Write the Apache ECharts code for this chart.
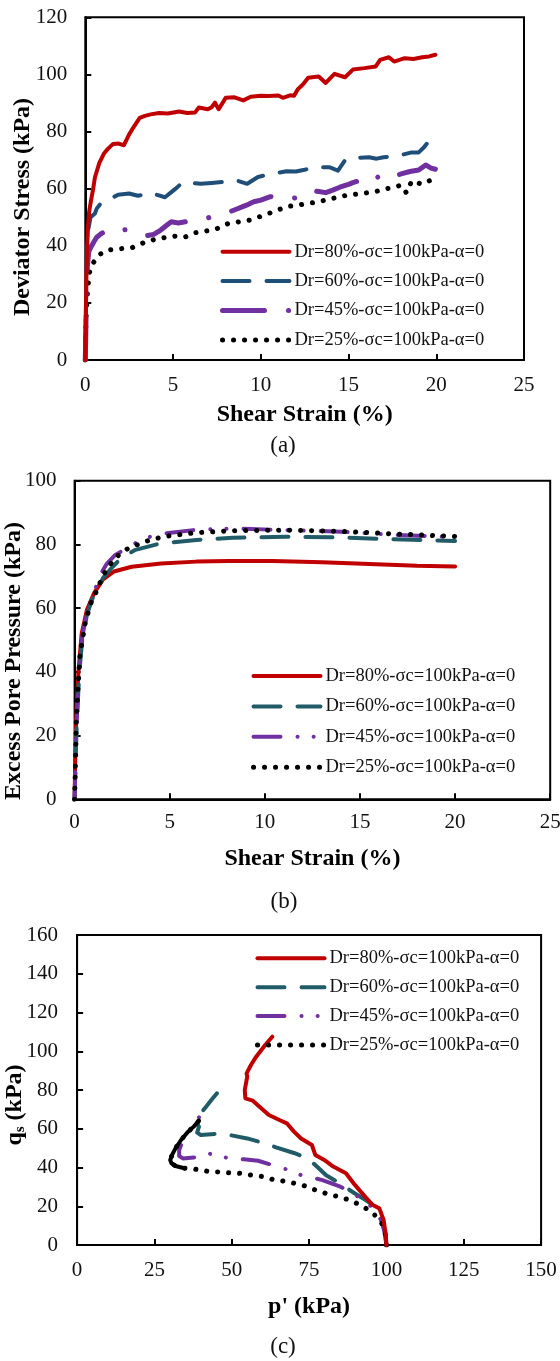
<!DOCTYPE html>
<html><head><meta charset="utf-8">
<script src="https://cdn.jsdelivr.net/npm/echarts@6/dist/echarts.min.js"></script>
<style>html,body{margin:0;padding:0;background:#fff}#c{width:560px;height:1361px}</style>
</head><body><div id="c"></div>
<script>
// ---------- labels ----------
const legendLabels = ['Dr=80%-σc=100kPa-α=0','Dr=60%-σc=100kPa-α=0','Dr=45%-σc=100kPa-α=0','Dr=25%-σc=100kPa-α=0'];
const xTicksStrain = [0, 5, 10, 15, 20, 25];
const yTicksDev = [0, 20, 40, 60, 80, 100, 120];
const yTicksPore = [0, 20, 40, 60, 80, 100];
const xTicksP = [0, 25, 50, 75, 100, 125, 150];
const yTicksQ = [0, 20, 40, 60, 80, 100, 120, 140, 160];

// ---------- panel (a): deviator stress vs shear strain ----------
const aStrain80 = [0,0.03,0.06,0.1,0.15,0.22,0.33,0.45,0.55,0.8,1.06,1.3,1.57,1.9,2.2,2.5,2.8,3.1,3.4,3.72,4.2,4.7,5.35,5.8,6.26,6.47,6.98,7.2,7.39,7.6,8.0,8.5,9.0,9.43,10.0,10.45,11.0,11.26,11.67,11.9,12.1,12.4,12.7,13.3,13.7,14.2,14.8,15.25,15.9,16.55,16.8,17.3,17.6,18.2,18.7,19.2,19.6,19.95];
const aDev80    = [0,15,28,38.5,46,52,56,60,64,69,72.3,74,75.6,75.8,75.2,79,82,84.8,85.5,86,86.5,86.3,87,86.5,86.7,88.4,87.8,88.5,90.1,87.8,91.8,92,90.9,92.2,92.5,92.4,92.6,91.8,92.7,92.5,94.7,96.5,98.8,99.3,97,100.2,99,101.7,102.2,102.8,105.1,106,104.5,105.7,105.4,106,106.3,106.9];
const aStrain60 = [0,0.02,0.05,0.12,0.3,0.55,0.65,0.9,1.26,1.6,1.87,2.49,3.0,3.3,3.7,4.1,4.54,4.85,5.15,5.56,6.0,6.58,7.2,7.8,8.6,9.23,9.84,10.66,11.47,12.0,12.5,13.1,13.9,14.4,14.85,15.5,16.17,16.6,17.0,17.8,18.6,19.0,19.3,19.6,19.95];
const aDev60    = [0,9.3,25,44,50,51.3,53,55,56,57,57.9,58.3,57.5,57.9,58.6,57.8,57,58.5,60,62.3,62,61.7,62,62.3,62.9,61.7,64.1,65.2,66.1,66,66.6,67.5,67.5,66.3,70.4,70.8,71,70.5,71,71.5,72.7,72.7,74.5,76.8,78];
const aStrain45 = [0,0.03,0.06,0.12,0.2,0.33,0.5,0.65,0.85,1.06,1.25,1.47,1.77,2.1,2.49,2.9,3.4,3.9,4.3,4.6,4.9,5.3,5.7,6.2,6.7,7.1,7.4,7.8,8.15,8.6,8.97,9.3,9.6,10.0,10.55,11.0,11.47,12.0,12.4,12.9,13.3,13.7,14.1,14.5,15.0,15.25,15.6,15.97,16.4,16.8,17.2,17.6,18.0,18.5,19.0,19.4,19.7,19.95];
const aDev45    = [0,10,22,33,38,39.6,41.5,43,44,44.8,45.5,46.2,45.7,45.5,45.7,44.5,43.4,44,45.5,47,48.4,48,48.4,48.6,49,50,50.8,51,51.7,52.8,53.7,54.5,55.4,56,57.2,56.8,56.2,56.8,57.2,59.3,59,58.6,59.5,60.5,61.5,62.1,62.8,63.6,62.5,64.8,63.6,64.2,65.2,66,66.5,68.3,67.2,66.8];
const aStrain25 = [0,0.02,0.06,0.12,0.22,0.43,0.74,1.26,2.07,2.69,3.3,4.1,5.15,5.7,6.2,7.4,8.15,9.4,10.45,11.47,12.5,13.3,14.1,14.9,15.5,16.5,17.4,18.0,18.3,18.6,19.2,19.85];
const aDev25    = [0,9.3,17,23.3,30.3,33.8,36.7,38.5,39,39.4,41,42.5,43.4,43.1,44.5,45.7,47.8,49,51.3,53.7,54.6,55.4,56.6,57.7,58.1,58.9,60.3,61.2,58.5,62.7,61.5,63.5];

// ---------- panel (b): excess pore pressure vs shear strain ----------
const bStrain80 = [0,0.03,0.1,0.2,0.37,0.65,1.03,1.5,2.07,3,4.55,6.4,8.1,10.4,13,15.85,18,20];
const bPore80   = [0,12,28,40,52,59.5,64.8,69,71.5,73,74,74.6,74.8,74.8,74.4,73.8,73.3,73.1];
const bStrain60 = [0,0.05,0.12,0.25,0.4,0.65,1.0,1.5,2.0,2.5,3.2,4.5,6.4,8.3,11.1,14,16.8,20];
const bPore60   = [0,12,25,40,50,58,64,69.5,73,76,78.3,80.3,81.4,82.1,82.4,82.2,81.6,81.1];
const bStrain45 = [0,0.05,0.12,0.25,0.4,0.65,1.0,1.35,1.7,2.1,2.7,3.6,4.55,6.4,8.3,11.1,14,16.8,20];
const bPore45   = [0,12,26,41,51,58.5,64.5,70.5,74,76.5,78.7,81.8,83.3,84.6,85,84.5,84,83,82.3];
const bStrain25 = [0,0.05,0.09,0.18,0.28,0.56,0.85,1.13,1.5,2.07,2.82,3.76,4.7,6.43,8.31,11.1,14,16.8,20];
const bPore25   = [0,12,25,35,45,55.5,61.5,65,70.3,75.5,78.8,81,82.5,83.7,84.3,84.5,84.1,83.3,82.5];

// ---------- panel (c): stress path q_s vs p' ----------
const cP80 = [100,99.8,99.1,97.7,95.6,93.3,89.8,86.9,82.8,79.9,77.0,75.9,72.4,70.1,67.8,65.4,62,59.6,56.8,54.4,54.2,55,54.8,56.2,57.9,60.8,63.1];
const cQ80 = [0,5,12.9,18.9,20.6,24.6,31,37,40.5,43.9,46.5,51.6,55,58.5,62.8,64.5,67.1,70.5,74.5,75.7,80,86.9,88.6,92.9,97.2,103.2,107.5];
const cP60 = [100,99.4,97.9,95.6,93.3,89.8,84,80.5,78.2,74.7,70.1,64.3,60.8,55,49.2,44.6,40,38.8,39.4,38.8,38.6,40,41.7,43.4,45.2];
const cQ60 = [0,7.7,14.6,20.6,23.2,26.6,32.7,36,39.5,44.6,47.5,50.4,52.4,55,56.8,57.3,56.8,58,61.1,62.8,65.4,68,71.4,74.8,78.3];
const cP45 = [100,99.5,98.5,96.7,90.9,85.1,79.3,77,72.4,67.8,63.1,58.5,53.9,49.2,42.3,40.6,37.7,34.2,33,33,34.2,36.5,38.8,41.1];
const cQ45 = [0,6,12,18,24.9,30.1,33.5,34.4,36.1,39,41.3,43.5,44.2,44.7,47.3,45.6,45.2,44.7,45.9,49,54.2,59.4,64.5,69.7];
const cP25 = [100,99.6,98.5,96.2,93.3,90.4,87.3,83.6,80.3,77,73.6,70.1,66.6,63.1,60.2,56.2,52.7,49.2,46.3,42.9,40,37.7,34.7,31.8,30.5,30.1,30.7,31.8,33.6,35.9,37.7,39.4];
const cQ25 = [0,6,11,15.5,19,21.5,23.6,25.3,26.7,28.4,30.5,31.9,33,33.9,35.3,36.1,37,37.3,37.7,37.8,38.7,39.2,39.6,40.8,42.2,43.9,46.5,49.9,54.2,58.5,61.1,64.2];
const cDenseStart25 = 22; // where the recorded points of the Dr=25% path become dense

// ---------- helpers ----------
const SERIF = '"Liberation Serif", "Times New Roman", serif';
const pairs = (xs, ys) => xs.map((x, i) => [x, ys[i]]);
const RED = '#C00000', BLUE = '#1F4E79', TEAL = '#215B67', PURPLE = '#7030A0', BLACK = '#000000';

function lineSeries(name, gi, xs, ys, color, width, type, z) {
  return {
    type: 'line', name: name, xAxisIndex: gi, yAxisIndex: gi,
    data: pairs(xs, ys), symbol: 'none', showSymbol: false, smooth: false,
    silent: true, animation: false, z: z || 2,
    itemStyle: { color: color },
    lineStyle: { color: color, width: width, type: type, cap: 'round', join: 'round' }
  };
}

function xAxisCfg(gi, ticks, margin, name, gap) {
  return {
    type: 'value', gridIndex: gi, min: ticks[0], max: ticks[ticks.length - 1],
    interval: ticks[1] - ticks[0],
    name: name, nameLocation: 'middle', nameGap: gap,
    nameTextStyle: { fontFamily: SERIF, fontSize: 24, fontWeight: 'bold', color: '#000' },
    axisLine: { show: true, onZero: false, lineStyle: { color: '#000', width: 2 } },
    axisTick: { show: true, inside: true, length: 6, lineStyle: { color: '#000', width: 2 } },
    splitLine: { show: false },
    axisLabel: { fontFamily: SERIF, fontSize: 21, color: '#111', margin: margin }
  };
}
function yAxisCfg(gi, ticks, margin) {
  return {
    type: 'value', gridIndex: gi, min: ticks[0], max: ticks[ticks.length - 1],
    interval: ticks[1] - ticks[0],
    axisLine: { show: true, onZero: false, lineStyle: { color: '#000', width: 2 } },
    axisTick: { show: true, inside: true, length: 6, lineStyle: { color: '#000', width: 2 } },
    splitLine: { show: false },
    axisLabel: { fontFamily: SERIF, fontSize: 21, color: '#111', margin: margin }
  };
}

const nameMap = {};
['a', 'b', 'c'].forEach(p => {
  nameMap[p + '80'] = legendLabels[0];
  nameMap[p + '60'] = legendLabels[1];
  nameMap[p + '45'] = legendLabels[2];
  nameMap[p + '25'] = legendLabels[3];
});
function legendCfg(p, left, top, gap) {
  return {
    orient: 'vertical', left: left, top: top, padding: 0,
    itemWidth: 67, itemHeight: 20, itemGap: gap, selectedMode: false,
    data: [p + '80', p + '60', p + '45', p + '25'],
    formatter: n => nameMap[n],
    itemStyle: { opacity: 0, borderWidth: 0 },
    lineStyle: { width: 'inherit' },
    textStyle: { fontFamily: SERIF, fontSize: 18.5, color: '#111', lineHeight: 20 }
  };
}

const gridBase = { show: true, borderColor: '#000', borderWidth: 2, containLabel: false, outerBoundsMode: 'none' };

const DASH = [27, 17];
const DOT = [0.1, 10.9];
const DASHDOT_A = [42, 24, 0.1, 24];
const DASHDOTDOT = [27, 17, 0.1, 16, 0.1, 17];

const option = {
  backgroundColor: '#ffffff',
  animation: false,
  grid: [
    Object.assign({ left: 85.3, top: 17.3, width: 438.7, height: 342.7 }, gridBase),
    Object.assign({ left: 74.6, top: 480.7, width: 475.6, height: 318.6 }, gridBase),
    Object.assign({ left: 77.1, top: 935, width: 464, height: 310 }, gridBase)
  ],
  xAxis: [
    xAxisCfg(0, xTicksStrain, 15, 'Shear Strain (%)', 43),
    xAxisCfg(1, xTicksStrain, 13, 'Shear Strain (%)', 47),
    xAxisCfg(2, xTicksP, 15, "p' (kPa)", 50)
  ],
  yAxis: [
    yAxisCfg(0, yTicksDev, 18),
    yAxisCfg(1, yTicksPore, 18),
    yAxisCfg(2, yTicksQ, 19)
  ],
  legend: [
    legendCfg('a', 220, 241.7, 9.4),
    legendCfg('b', 251, 666, 10.4),
    legendCfg('c', 255, 948.3, 8.9)
  ],
  series: [
    lineSeries('a25', 0, aStrain25, aDev25, BLACK, 5, DOT),
    lineSeries('a45', 0, aStrain45, aDev45, PURPLE, 5, DASHDOT_A),
    lineSeries('a60', 0, aStrain60, aDev60, BLUE, 4, DASH),
    lineSeries('a80', 0, aStrain80, aDev80, RED, 4, 'solid'),

    lineSeries('b80', 1, bStrain80, bPore80, RED, 4, 'solid'),
    lineSeries('b60', 1, bStrain60, bPore60, TEAL, 4, DASH),
    lineSeries('b45', 1, bStrain45, bPore45, PURPLE, 4, DASHDOTDOT),
    lineSeries('b25', 1, bStrain25, bPore25, BLACK, 5, DOT),

    lineSeries('c80', 2, cP80, cQ80, RED, 4, 'solid', 3),
    lineSeries('c60', 2, cP60, cQ60, TEAL, 4, DASH),
    lineSeries('c45', 2, cP45, cQ45, PURPLE, 4, DASHDOTDOT),
    lineSeries('c25', 2, cP25, cQ25, BLACK, 5, DOT),
    lineSeries('c25dense', 2, cP25.slice(cDenseStart25), cQ25.slice(cDenseStart25), BLACK, 4, 'solid')
  ],
  graphic: [
    { type: 'text', x: 22.6, y: 207, rotation: Math.PI / 2, silent: true,
      style: { text: 'Deviator Stress (kPa)', font: 'bold 24px ' + SERIF, fill: '#000', align: 'center', verticalAlign: 'middle', textAlign: 'center', textVerticalAlign: 'middle' } },
    { type: 'text', x: 13.6, y: 661, rotation: Math.PI / 2, silent: true,
      style: { text: 'Excess Pore Pressure (kPa)', font: 'bold 24px ' + SERIF, fill: '#000', align: 'center', verticalAlign: 'middle', textAlign: 'center', textVerticalAlign: 'middle' } },
    { type: 'text', x: 14.3, y: 1105, rotation: Math.PI / 2, silent: true,
      style: { text: '{m|q}{s|s}{m| (kPa)}', fill: '#000', align: 'center', verticalAlign: 'middle', textAlign: 'center', textVerticalAlign: 'middle',
        rich: {
          m: { fontFamily: SERIF, fontSize: 24, fontWeight: 'bold', fill: '#000', color: '#000', lineHeight: 28 },
          s: { fontFamily: SERIF, fontSize: 15, fontWeight: 'bold', fill: '#000', color: '#000', padding: [12, 0, 0, 0], lineHeight: 28 }
        } } },
    { type: 'text', x: 283, y: 446, silent: true,
      style: { text: '(a)', font: '23px ' + SERIF, fill: '#111', align: 'center', verticalAlign: 'middle', textAlign: 'center', textVerticalAlign: 'middle' } },
    { type: 'text', x: 284, y: 902, silent: true,
      style: { text: '(b)', font: '23px ' + SERIF, fill: '#111', align: 'center', verticalAlign: 'middle', textAlign: 'center', textVerticalAlign: 'middle' } },
    { type: 'text', x: 283, y: 1347, silent: true,
      style: { text: '(c)', font: '23px ' + SERIF, fill: '#111', align: 'center', verticalAlign: 'middle', textAlign: 'center', textVerticalAlign: 'middle' } }
  ]
};

const chart = echarts.init(document.getElementById('c'), null, { renderer: 'canvas' });
chart.setOption(option);
</script>
</body></html>
